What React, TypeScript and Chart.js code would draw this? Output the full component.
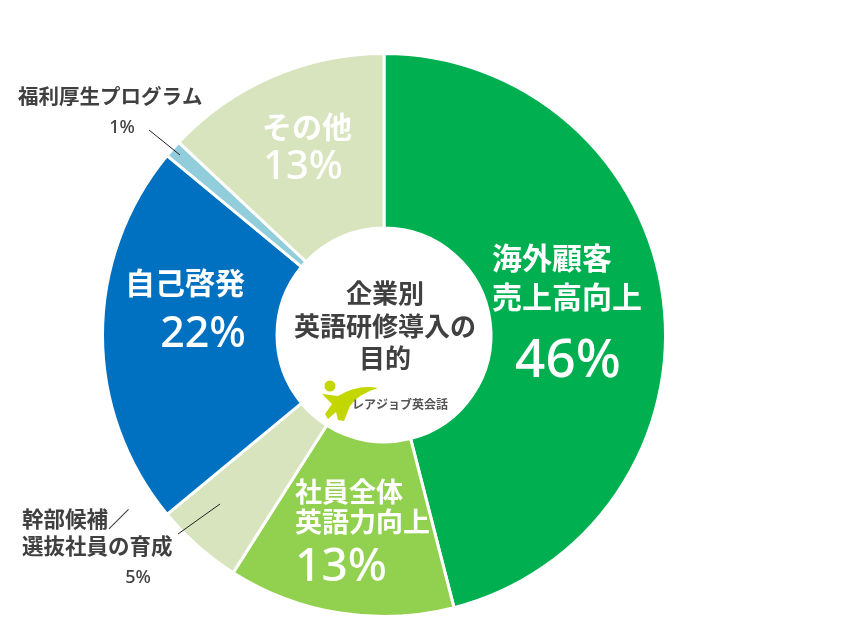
import React, { useEffect, useRef } from "react";
import { Chart, registerables } from "chart.js";

Chart.register(...registerables);

const categories = [
  "海外顧客売上高向上",
  "社員全体英語力向上",
  "幹部候補／選抜社員の育成",
  "自己啓発",
  "福利厚生プログラム",
  "その他",
];
const labelLines = [
  ["海外顧客", "売上高向上"],
  ["社員全体", "英語力向上"],
  ["幹部候補／", "選抜社員の育成"],
  ["自己啓発"],
  ["福利厚生プログラム"],
  ["その他"],
];
const values = [46, 13, 5, 22, 1, 13];
const colors = ["#00B050", "#92D050", "#D7E4BD", "#0070C0", "#92CDDC", "#D7E4BD"];
const centerTitle = ["企業別", "英語研修導入の", "目的"];
const logoText = "レアジョブ英会話";

const FONT = "'Noto Sans CJK JP', 'Noto Sans', sans-serif";
const NUMFONT = "'Noto Sans', 'Noto Sans CJK JP', sans-serif";
const DARK = "#404040";

// layout: offsets relative to doughnut centre
type Lay = {
  lx: number; ly: number[]; lsize: number; lalign: CanvasTextAlign;
  vx: number; vy: number; vsize: number; valign: CanvasTextAlign;
  color: string; weight: string; vweight: string;
  leader?: [number, number, number, number];
};
const layout: Lay[] = [
  { lx: 108, ly: [-77, -38], lsize: 30, lalign: "left", vx: 184, vy: 27, vsize: 53, valign: "center", color: "#fff", weight: "bold", vweight: "500" },
  { lx: -89, ly: [157, 187], lsize: 27, lalign: "left", vx: -43, vy: 233, vsize: 46, valign: "center", color: "#fff", weight: "bold", vweight: "500" },
  { lx: -362, ly: [184, 211], lsize: 21.5, lalign: "left", vx: -246, vy: 243, vsize: 18, valign: "center", color: DARK, weight: "bold", vweight: "500", leader: [-206, 199, -164, 169] },
  { lx: -139, ly: [-52], lsize: 30, lalign: "right", vx: -138, vy: 0, vsize: 43, valign: "right", color: "#fff", weight: "bold", vweight: "500" },
  { lx: -366, ly: [-239], lsize: 20.5, lalign: "left", vx: -262, vy: -207, vsize: 18, valign: "center", color: DARK, weight: "bold", vweight: "500", leader: [-235, -205, -204, -180] },
  { lx: -77, ly: [-208], lsize: 30, lalign: "center", vx: -81, vy: -167, vsize: 40, valign: "center", color: "#fff", weight: "bold", vweight: "500" },
];

const labelPlugin = {
  id: "labelPlugin",
  afterDraw(chart: any) {
    const meta = chart.getDatasetMeta(0);
    const arc = meta.data[0];
    if (!arc) return;
    const cx = arc.x;
    const cy = arc.y;
    const ctx: CanvasRenderingContext2D = chart.ctx;
    ctx.save();
    ctx.textBaseline = "middle";
    layout.forEach((l, i) => {
      ctx.fillStyle = l.color;
      ctx.font = `${l.weight} ${l.lsize}px ${FONT}`;
      ctx.textAlign = l.lalign;
      labelLines[i].forEach((t, j) => {
        ctx.fillText(t, cx + l.lx, cy + l.ly[j]);
      });
      ctx.font = `${l.vweight} ${l.vsize}px ${NUMFONT}`;
      ctx.textAlign = l.valign;
      ctx.fillText(`${values[i]}%`, cx + l.vx, cy + l.vy);
      if (l.leader) {
        ctx.strokeStyle = "#222";
        ctx.lineWidth = 1;
        ctx.beginPath();
        ctx.moveTo(cx + l.leader[0], cy + l.leader[1]);
        ctx.lineTo(cx + l.leader[2], cy + l.leader[3]);
        ctx.stroke();
      }
    });
    // centre title
    ctx.fillStyle = DARK;
    ctx.textAlign = "center";
    ctx.font = `bold 26px ${FONT}`;
    const ty = [-42, -9, 23];
    centerTitle.forEach((t, j) => ctx.fillText(t, cx + 1, cy + ty[j]));
    // logo mark
    const ox = cx - 54;
    const oy = cy + 51;
    ctx.fillStyle = "#C3D600";
    ctx.beginPath();
    ctx.arc(ox, oy, 5.5, 0, Math.PI * 2);
    ctx.fill();
    ctx.beginPath();
    ctx.moveTo(ox - 8, oy + 8);
    ctx.lineTo(ox + 8, oy + 10);
    ctx.quadraticCurveTo(ox + 28, oy - 2, ox + 48, oy + 2);
    ctx.quadraticCurveTo(ox + 28, oy + 8, ox + 20, oy + 20);
    ctx.lineTo(ox + 14, oy + 35);
    ctx.lineTo(ox + 8, oy + 34);
    ctx.lineTo(ox + 6, oy + 26);
    ctx.lineTo(ox - 2, oy + 33);
    ctx.lineTo(ox - 5, oy + 28);
    ctx.lineTo(ox + 2, oy + 18);
    ctx.closePath();
    ctx.fill();
    ctx.fillStyle = "#555";
    ctx.textAlign = "left";
    ctx.font = `bold 12px ${FONT}`;
    ctx.fillText(logoText, cx - 32, cy + 69);
    ctx.restore();
  },
};

export default function App() {
  const ref = useRef<HTMLCanvasElement>(null);
  useEffect(() => {
    if (!ref.current) return;
    const chart = new Chart(ref.current, {
      type: "doughnut",
      data: {
        labels: categories,
        datasets: [
          {
            data: values,
            backgroundColor: colors,
            borderColor: "#ffffff",
            borderWidth: 3,
          },
        ],
      },
      options: {
        responsive: false,
        animation: false,
        devicePixelRatio: 1,
        cutout: "38%",
        layout: { padding: { left: 101, right: 190, top: 52, bottom: 13 } },
        plugins: {
          legend: { display: false },
          tooltip: { enabled: false },
        },
      },
      plugins: [labelPlugin],
    });
    return () => chart.destroy();
  }, []);
  return (
    <div style={{ position: "fixed", left: 0, top: 0, width: 857, height: 631, background: "#fff" }}>
      <canvas ref={ref} width={857} height={631} style={{ width: 857, height: 631, display: "block" }} />
    </div>
  );
}
